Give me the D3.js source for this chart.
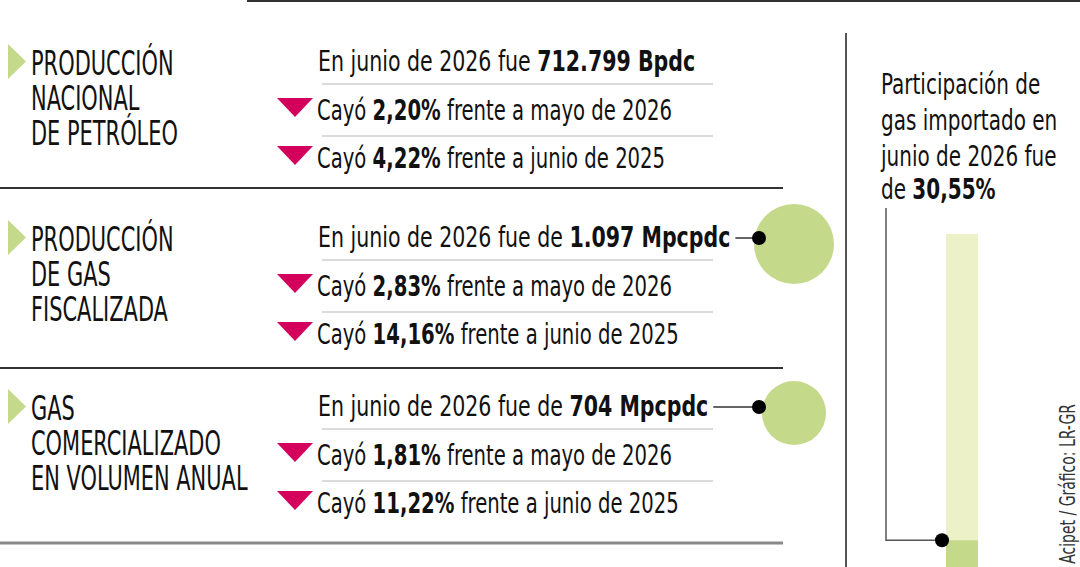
<!DOCTYPE html>
<html>
<head>
<meta charset="utf-8">
<script src="https://cdn.jsdelivr.net/npm/d3@7"></script>
<style>
  body { margin: 0; background: #fff; }
  svg { display: block; font-family: "Liberation Sans Narrow", "DejaVu Sans Condensed", sans-serif; }
</style>
</head>
<body>
<div class="board"></div>
<script>
// data
var sectionTitles = [
  ['PRODUCCIÓN', 'NACIONAL', 'DE PETRÓLEO'],
  ['PRODUCCIÓN', 'DE GAS', 'FISCALIZADA'],
  ['GAS', 'COMERCIALIZADO', 'EN VOLUMEN ANUAL']
];
var headPrefix = ['En junio de 2026 fue ', 'En junio de 2026 fue de ', 'En junio de 2026 fue de '];
var headValues = ['712.799 Bpdc', '1.097 Mpcpdc', '704 Mpcpdc'];
var gasVolume = [null, 1097, 704];           // Mpcpdc, drawn as circles
var monthChange = ['2,20%', '2,83%', '1,81%'];
var yearChange = ['4,22%', '14,16%', '11,22%'];
var importLines = ['Participación de', 'gas importado en', 'junio de 2026 fue'];
var importShare = 30.55;                     // %

//globals
var width = 1080;
var height = 567;
var green = '#c5d98b';
var pink = '#d3015c';
var headY = [71, 247, 416];                  // baseline of first row per section

// the original face is condensed, so squeeze the fallback font sideways
var titleSx = 0.705;
var headSx = 0.815;
var rowSx = 0.78;
var sideSx = 0.78;

var svg = d3.select('.board').append('svg')
  .attr('width', width)
  .attr('height', height);

// frame lines
svg.append('line').attr('x1', 247).attr('x2', width).attr('y1', 1).attr('y2', 1)
  .attr('stroke', '#333').attr('stroke-width', 2);
[188, 368].forEach(function(y) {
  svg.append('line').attr('x1', 0).attr('x2', 783).attr('y1', y).attr('y2', y)
    .attr('stroke', '#333').attr('stroke-width', 2);
});
svg.append('line').attr('x1', 0).attr('x2', 783).attr('y1', 543).attr('y2', 543)
  .attr('stroke', '#8a8a8a').attr('stroke-width', 3);
svg.append('line').attr('x1', 846).attr('x2', 846).attr('y1', 33).attr('y2', height)
  .attr('stroke', '#555').attr('stroke-width', 2);

var r = d3.scaleSqrt().domain([0, 1097]).range([0, 40]);

var sections = svg.selectAll('g.section').data(sectionTitles)
  .enter().append('g')
  .attr('class', 'section')
  .attr('transform', function(d, i) { return 'translate(0,' + headY[i] + ')'; });

sections.each(function(title, i) {
  var g = d3.select(this);

  // green arrow + title
  g.append('path')
    .attr('d', 'M8,-27 L26,-9.5 L8,8 Z')
    .attr('fill', green);
  var t = g.append('text')
    .attr('transform', 'translate(31,4) scale(' + titleSx + ',1)')
    .attr('font-size', 33)
    .attr('fill', '#111');
  t.selectAll('tspan').data(title).enter().append('tspan')
    .attr('x', 0)
    .attr('y', function(d, k) { return k * 35; })
    .text(function(d) { return d; });

  // light separators
  [13, 65].forEach(function(dy) {
    g.append('line').attr('x1', 322).attr('x2', 713).attr('y1', dy).attr('y2', dy)
      .attr('stroke', '#cfcfcf').attr('stroke-width', 1.5);
  });

  // head row
  var head = g.append('text')
    .attr('transform', 'translate(318,0) scale(' + headSx + ',1)')
    .attr('font-size', 28)
    .attr('fill', '#111');
  head.append('tspan').text(headPrefix[i]);
  head.append('tspan').attr('font-weight', 'bold').text(headValues[i]);

  // change rows
  [monthChange[i], yearChange[i]].forEach(function(v, k) {
    var y = 49 + k * 48;
    g.append('path')
      .attr('d', 'M277,' + (y - 22) + ' L313,' + (y - 22) + ' L295,' + (y - 3) + ' Z')
      .attr('fill', pink);
    var row = g.append('text')
      .attr('transform', 'translate(317,' + y + ') scale(' + rowSx + ',1)')
      .attr('font-size', 28)
      .attr('fill', '#111');
    row.append('tspan').text('Cayó ');
    row.append('tspan').attr('font-weight', 'bold').text(v);
    row.append('tspan').text(k === 0 ? ' frente a mayo de 2026' : ' frente a junio de 2025');
  });

  // volume circle with connector
  if (gasVolume[i] !== null) {
    var endX = 318 + headSx * head.node().getComputedTextLength() + 5;
    g.append('circle').attr('cx', 794).attr('cy', -3).attr('r', r(gasVolume[i]))
      .attr('fill', green);
    g.append('line').attr('x1', endX).attr('x2', 759).attr('y1', -9).attr('y2', -9)
      .attr('stroke', '#333').attr('stroke-width', 1.5);
    g.append('circle').attr('cx', 759).attr('cy', -9).attr('r', 7).attr('fill', '#000');
  }
});

// imported gas share panel
var side = svg.append('text')
  .attr('transform', 'translate(881,0) scale(' + sideSx + ',1)')
  .attr('font-size', 28.5)
  .attr('fill', '#111');
side.selectAll('tspan.l').data(importLines).enter().append('tspan')
  .attr('x', 0)
  .attr('y', function(d, k) { return 94 + k * 36; })
  .text(function(d) { return d; });
side.append('tspan').attr('x', 0).attr('y', 94 + 3 * 35).text('de ');
side.append('tspan').attr('font-weight', 'bold')
  .text(d3.format('.2f')(importShare).replace('.', ',') + '%');

var y = d3.scaleLinear().domain([0, 100]).range([675, 234]);
svg.append('rect').attr('x', 946).attr('width', 32)
  .attr('y', y(100)).attr('height', y(0) - y(100))
  .attr('fill', '#ecf1c7');
svg.append('rect').attr('x', 946).attr('width', 32)
  .attr('y', y(importShare)).attr('height', y(0) - y(importShare))
  .attr('fill', green);
svg.append('path')
  .attr('d', 'M886,208 V' + y(importShare) + ' H942')
  .attr('fill', 'none').attr('stroke', '#555').attr('stroke-width', 1.5);
svg.append('circle').attr('cx', 942).attr('cy', y(importShare)).attr('r', 7).attr('fill', '#000');

// source, rotated (runs off the bottom edge like in the print)
svg.append('text')
  .attr('transform', 'translate(1075,404) rotate(-90) scale(0.74,1)')
  .attr('text-anchor', 'end')
  .attr('font-size', 21)
  .attr('fill', '#333')
  .text('Fuente: Acipet / Gráfico: LR-GR');
</script>
</body>
</html>
